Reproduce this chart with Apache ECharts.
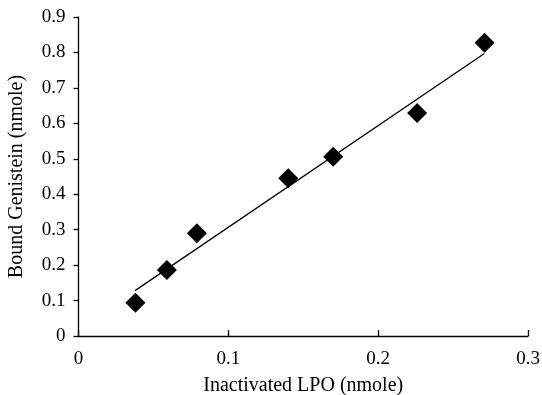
<!DOCTYPE html>
<html>
<head>
<meta charset="utf-8">
<script src="https://cdn.jsdelivr.net/npm/echarts@6/dist/echarts.min.js"></script>
<style>html,body{margin:0;padding:0;background:#fff}#c{width:542px;height:395px}</style>
</head>
<body>
<div id="c"></div>
<script>
const xValues = [0.038, 0.059, 0.079, 0.140, 0.170, 0.226, 0.271];
const yValues = [0.094, 0.186, 0.290, 0.445, 0.506, 0.629, 0.827];
const trendX = [0.0377, 0.2709];
const trendY = [0.128, 0.797];
const xName = 'Inactivated LPO (nmole)';
const yName = 'Bound Genistein (nmole)';

const font = 'Liberation Serif, Times New Roman, serif';
const chart = echarts.init(document.getElementById('c'));
chart.setOption({
  animation: false,
  backgroundColor: '#fff',
  grid: {left: 78.5, right: 14, top: 17, bottom: 59, containLabel: false, outerBoundsMode: 'none'},
  xAxis: {
    type: 'value', min: 0, max: 0.3, interval: 0.1,
    name: xName, nameLocation: 'middle', nameGap: 40,
    nameTextStyle: {fontFamily: font, fontSize: 20, color: '#000'},
    axisLine: {onZero: false, lineStyle: {color: '#000', width: 1.3}},
    axisTick: {inside: true, length: 6, lineStyle: {color: '#000', width: 1.3}},
    axisLabel: {fontFamily: font, fontSize: 19, color: '#000', margin: 14},
    splitLine: {show: false}
  },
  yAxis: {
    type: 'value', min: 0, max: 0.9, interval: 0.1,
    name: yName, nameLocation: 'middle', nameGap: 52,
    nameTextStyle: {fontFamily: font, fontSize: 20, color: '#000'},
    axisLine: {onZero: false, lineStyle: {color: '#000', width: 1.3}},
    axisTick: {inside: false, length: 5, lineStyle: {color: '#000', width: 1.3}},
    axisLabel: {fontFamily: font, fontSize: 19, color: '#000', margin: 13},
    splitLine: {show: false}
  },
  series: [
    {
      type: 'line',
      data: trendX.map((x, i) => [x, trendY[i]]),
      showSymbol: false, symbol: 'none',
      lineStyle: {color: '#000', width: 1.3},
      silent: true, z: 2
    },
    {
      type: 'scatter',
      data: xValues.map((x, i) => [x, yValues[i]]),
      symbol: 'diamond', symbolSize: [20, 20],
      itemStyle: {color: '#000', opacity: 1}, z: 3
    }
  ]
});
</script>
</body>
</html>
